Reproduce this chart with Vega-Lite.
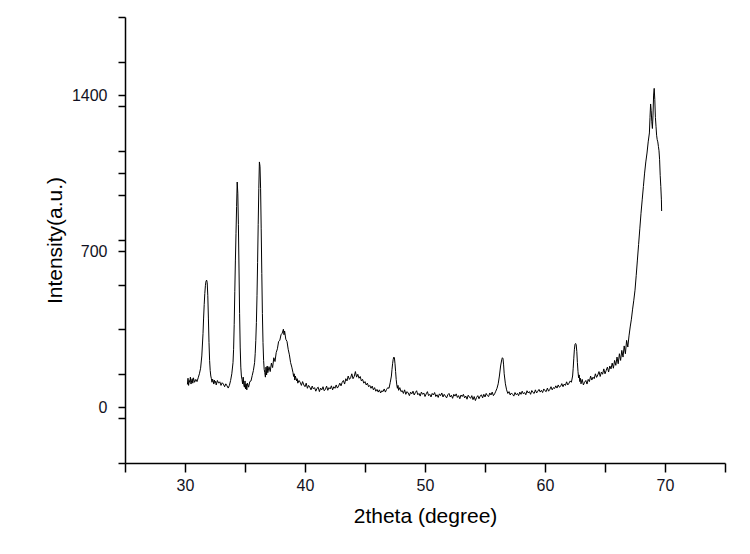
{
"$schema":"https://vega.github.io/schema/vega-lite/v6.json",
"autosize":{"type":"none"},
"width":600,"height":446,
"padding":{"left":125,"top":17,"right":25,"bottom":91},
"background":"white",
"config":{"view":{"stroke":null},"font":"Liberation Sans"},
"data":{"values":[
{"t":30.2,"i":102},{"t":30.25,"i":130},{"t":30.3,"i":98},{"t":30.35,"i":120},{"t":30.4,"i":112},{"t":30.45,"i":135},{"t":30.5,"i":104},{"t":30.55,"i":118},{"t":30.6,"i":128},{"t":30.65,"i":108},{"t":30.7,"i":132},{"t":30.8,"i":112},{"t":30.9,"i":125},{"t":31.0,"i":115},{"t":31.1,"i":132},{"t":31.2,"i":150},
{"t":31.3,"i":175},{"t":31.4,"i":230},{"t":31.5,"i":330},{"t":31.55,"i":400},{"t":31.6,"i":460},{"t":31.65,"i":510},{"t":31.7,"i":545},{"t":31.75,"i":565},{"t":31.8,"i":570},{"t":31.85,"i":560},{"t":31.9,"i":500},{"t":31.95,"i":400},{"t":32.0,"i":290},{"t":32.05,"i":210},{"t":32.1,"i":165},{"t":32.15,"i":140},{"t":32.2,"i":128},
{"t":32.25,"i":112},{"t":32.3,"i":126},{"t":32.35,"i":118},{"t":32.4,"i":104},{"t":32.45,"i":122},{"t":32.5,"i":110},{"t":32.55,"i":116},{"t":32.6,"i":100},{"t":32.7,"i":120},{"t":32.8,"i":108},{"t":32.9,"i":114},{"t":33.0,"i":98},{"t":33.1,"i":110},{"t":33.2,"i":104},{"t":33.3,"i":92},{"t":33.4,"i":105},{"t":33.5,"i":96},{"t":33.6,"i":86},{"t":33.7,"i":98},{"t":33.8,"i":120},
{"t":33.9,"i":150},{"t":34.0,"i":200},{"t":34.05,"i":260},{"t":34.1,"i":370},{"t":34.15,"i":520},{"t":34.2,"i":660},{"t":34.25,"i":780},{"t":34.3,"i":900},{"t":34.35,"i":1010},{"t":34.4,"i":960},{"t":34.45,"i":820},{"t":34.5,"i":620},{"t":34.55,"i":420},{"t":34.6,"i":270},{"t":34.65,"i":180},{"t":34.7,"i":140},{"t":34.75,"i":125},
{"t":34.8,"i":105},{"t":34.85,"i":135},{"t":34.9,"i":100},{"t":34.95,"i":90},{"t":35.0,"i":118},{"t":35.05,"i":82},{"t":35.1,"i":105},{"t":35.15,"i":78},{"t":35.2,"i":108},{"t":35.3,"i":90},{"t":35.4,"i":115},{"t":35.5,"i":118},{"t":35.6,"i":142},{"t":35.7,"i":165},
{"t":35.8,"i":200},{"t":35.85,"i":240},{"t":35.9,"i":300},{"t":35.95,"i":380},{"t":36.0,"i":500},{"t":36.05,"i":650},{"t":36.1,"i":820},{"t":36.15,"i":980},{"t":36.2,"i":1100},{"t":36.25,"i":1080},{"t":36.3,"i":980},{"t":36.35,"i":800},{"t":36.4,"i":600},{"t":36.45,"i":420},{"t":36.5,"i":290},{"t":36.55,"i":210},{"t":36.6,"i":170},{"t":36.65,"i":155},
{"t":36.7,"i":135},{"t":36.75,"i":180},{"t":36.8,"i":145},{"t":36.85,"i":185},{"t":36.9,"i":155},{"t":37.0,"i":182},{"t":37.1,"i":160},{"t":37.2,"i":198},{"t":37.3,"i":178},{"t":37.4,"i":222},{"t":37.5,"i":205},{"t":37.6,"i":245},{"t":37.7,"i":262},{"t":37.8,"i":295},{"t":37.9,"i":300},{"t":38.0,"i":325},{"t":38.1,"i":332},{"t":38.2,"i":350},{"t":38.25,"i":325},{"t":38.3,"i":342},{"t":38.4,"i":305},{"t":38.5,"i":295},{"t":38.6,"i":260},{"t":38.7,"i":235},{"t":38.8,"i":200},{"t":38.9,"i":180},
{"t":39.0,"i":155},{"t":39.05,"i":138},{"t":39.1,"i":150},{"t":39.15,"i":122},{"t":39.2,"i":140},{"t":39.3,"i":118},{"t":39.35,"i":128},{"t":39.4,"i":108},{"t":39.5,"i":120},{"t":39.6,"i":112},{"t":39.7,"i":98},{"t":39.8,"i":115},{"t":39.9,"i":100},{"t":40.0,"i":92},{"t":40.1,"i":108},{"t":40.2,"i":85},{"t":40.3,"i":98},{"t":40.4,"i":90},{"t":40.5,"i":78},{"t":40.6,"i":95},{"t":40.7,"i":82},{"t":40.8,"i":88},{"t":40.9,"i":72},{"t":41.0,"i":85},{"t":41.1,"i":90},{"t":41.2,"i":70},{"t":41.3,"i":86},{"t":41.4,"i":78},{"t":41.5,"i":92},{"t":41.6,"i":74},{"t":41.7,"i":80},{"t":41.8,"i":95},{"t":41.9,"i":76},{"t":42.0,"i":88},{"t":42.1,"i":82},{"t":42.2,"i":96},{"t":42.3,"i":78},{"t":42.4,"i":92},{"t":42.5,"i":85},{"t":42.6,"i":100},{"t":42.7,"i":86},{"t":42.8,"i":95},
{"t":42.9,"i":108},{"t":43.0,"i":96},{"t":43.1,"i":112},{"t":43.2,"i":120},{"t":43.3,"i":104},{"t":43.4,"i":128},{"t":43.5,"i":118},{"t":43.6,"i":140},{"t":43.7,"i":125},{"t":43.8,"i":132},{"t":43.9,"i":150},{"t":44.0,"i":128},{"t":44.1,"i":138},{"t":44.2,"i":160},{"t":44.3,"i":135},{"t":44.4,"i":148},{"t":44.5,"i":130},{"t":44.6,"i":138},{"t":44.7,"i":118},{"t":44.8,"i":125},{"t":44.9,"i":108},{"t":45.0,"i":115},{"t":45.1,"i":100},{"t":45.2,"i":108},{"t":45.3,"i":92},{"t":45.4,"i":98},{"t":45.5,"i":85},{"t":45.6,"i":95},{"t":45.7,"i":78},{"t":45.8,"i":88},{"t":45.9,"i":72},{"t":46.0,"i":80},{"t":46.1,"i":68},{"t":46.2,"i":78},{"t":46.3,"i":64},{"t":46.4,"i":74},{"t":46.5,"i":70},{"t":46.6,"i":82},{"t":46.7,"i":68},{"t":46.8,"i":80},{"t":46.9,"i":88},{"t":47.0,"i":85},{"t":47.1,"i":110},
{"t":47.2,"i":140},{"t":47.25,"i":170},{"t":47.3,"i":195},{"t":47.35,"i":215},{"t":47.4,"i":225},{"t":47.45,"i":222},{"t":47.5,"i":195},{"t":47.55,"i":160},{"t":47.6,"i":125},{"t":47.65,"i":100},
{"t":47.7,"i":85},{"t":47.75,"i":98},{"t":47.8,"i":76},{"t":47.9,"i":88},{"t":48.0,"i":70},{"t":48.1,"i":75},{"t":48.2,"i":62},{"t":48.3,"i":78},{"t":48.4,"i":58},{"t":48.5,"i":70},{"t":48.6,"i":64},{"t":48.7,"i":52},{"t":48.8,"i":68},{"t":48.9,"i":60},{"t":49.0,"i":72},{"t":49.1,"i":55},{"t":49.2,"i":66},{"t":49.3,"i":74},{"t":49.4,"i":56},{"t":49.5,"i":62},{"t":49.6,"i":50},{"t":49.7,"i":68},{"t":49.8,"i":58},{"t":49.9,"i":64},{"t":50.0,"i":48},{"t":50.1,"i":60},{"t":50.2,"i":70},{"t":50.3,"i":52},{"t":50.4,"i":58},{"t":50.5,"i":46},{"t":50.6,"i":62},{"t":50.7,"i":55},{"t":50.8,"i":66},{"t":50.9,"i":48},{"t":51.0,"i":56},{"t":51.1,"i":44},{"t":51.2,"i":60},{"t":51.3,"i":52},{"t":51.4,"i":64},{"t":51.5,"i":46},{"t":51.6,"i":58},{"t":51.7,"i":50},{"t":51.8,"i":42},{"t":51.9,"i":56},{"t":52.0,"i":62},{"t":52.1,"i":46},{"t":52.2,"i":54},{"t":52.3,"i":40},{"t":52.4,"i":58},{"t":52.5,"i":50},{"t":52.6,"i":60},{"t":52.7,"i":44},{"t":52.8,"i":52},{"t":52.9,"i":38},{"t":53.0,"i":55},{"t":53.1,"i":48},{"t":53.2,"i":58},{"t":53.3,"i":42},{"t":53.4,"i":50},{"t":53.5,"i":36},{"t":53.6,"i":54},{"t":53.7,"i":46},{"t":53.8,"i":40},{"t":53.9,"i":52},{"t":54.0,"i":34},{"t":54.1,"i":48},{"t":54.2,"i":30},{"t":54.3,"i":44},{"t":54.4,"i":52},{"t":54.5,"i":38},{"t":54.6,"i":50},{"t":54.7,"i":56},{"t":54.8,"i":42},{"t":54.9,"i":58},{"t":55.0,"i":46},{"t":55.1,"i":62},{"t":55.2,"i":52},{"t":55.3,"i":48},{"t":55.4,"i":64},{"t":55.5,"i":55},{"t":55.6,"i":68},{"t":55.7,"i":52},{"t":55.8,"i":60},{"t":55.9,"i":72},{"t":56.0,"i":85},{"t":56.1,"i":105},
{"t":56.2,"i":140},{"t":56.3,"i":185},{"t":56.4,"i":215},{"t":56.45,"i":222},{"t":56.5,"i":218},{"t":56.55,"i":190},{"t":56.6,"i":150},{"t":56.7,"i":105},
{"t":56.8,"i":78},{"t":56.9,"i":62},{"t":57.0,"i":70},{"t":57.1,"i":55},{"t":57.2,"i":64},{"t":57.3,"i":58},{"t":57.4,"i":50},{"t":57.5,"i":66},{"t":57.6,"i":56},{"t":57.7,"i":62},{"t":57.8,"i":52},{"t":57.9,"i":68},{"t":58.0,"i":58},{"t":58.1,"i":72},{"t":58.2,"i":60},{"t":58.3,"i":66},{"t":58.4,"i":56},{"t":58.5,"i":74},{"t":58.6,"i":64},{"t":58.7,"i":70},{"t":58.8,"i":58},{"t":58.9,"i":75},{"t":59.0,"i":66},{"t":59.1,"i":62},{"t":59.2,"i":78},{"t":59.3,"i":64},{"t":59.4,"i":72},{"t":59.5,"i":80},{"t":59.6,"i":68},{"t":59.7,"i":76},{"t":59.8,"i":66},{"t":59.9,"i":82},{"t":60.0,"i":74},{"t":60.1,"i":70},{"t":60.2,"i":86},{"t":60.3,"i":72},{"t":60.4,"i":80},{"t":60.5,"i":92},{"t":60.6,"i":78},{"t":60.7,"i":88},{"t":60.8,"i":84},{"t":60.9,"i":96},{"t":61.0,"i":86},{"t":61.1,"i":100},{"t":61.2,"i":90},{"t":61.3,"i":94},{"t":61.4,"i":106},{"t":61.5,"i":92},{"t":61.6,"i":104},{"t":61.7,"i":98},{"t":61.8,"i":114},{"t":61.9,"i":100},{"t":62.0,"i":108},{"t":62.1,"i":118},{"t":62.2,"i":112},{"t":62.3,"i":140},
{"t":62.35,"i":175},{"t":62.4,"i":220},{"t":62.45,"i":260},{"t":62.5,"i":282},{"t":62.55,"i":286},{"t":62.6,"i":280},{"t":62.65,"i":250},{"t":62.7,"i":200},{"t":62.75,"i":160},
{"t":62.8,"i":132},{"t":62.85,"i":145},{"t":62.9,"i":115},{"t":62.95,"i":130},{"t":63.0,"i":105},{"t":63.1,"i":125},{"t":63.2,"i":100},{"t":63.3,"i":112},{"t":63.4,"i":120},{"t":63.5,"i":104},{"t":63.6,"i":125},{"t":63.7,"i":115},{"t":63.8,"i":140},{"t":63.9,"i":122},{"t":64.0,"i":135},{"t":64.1,"i":128},{"t":64.2,"i":150},{"t":64.3,"i":134},{"t":64.4,"i":145},{"t":64.5,"i":160},{"t":64.6,"i":138},{"t":64.7,"i":158},{"t":64.8,"i":148},{"t":64.9,"i":172},{"t":65.0,"i":150},{"t":65.1,"i":165},{"t":65.2,"i":180},{"t":65.3,"i":158},{"t":65.4,"i":185},{"t":65.5,"i":172},{"t":65.6,"i":198},{"t":65.7,"i":175},{"t":65.8,"i":210},{"t":65.9,"i":188},{"t":66.0,"i":225},{"t":66.1,"i":195},{"t":66.2,"i":240},{"t":66.3,"i":210},{"t":66.4,"i":255},{"t":66.5,"i":225},{"t":66.6,"i":275},{"t":66.7,"i":240},{"t":66.8,"i":300},{"t":66.9,"i":270},
{"t":67.0,"i":320},{"t":67.1,"i":360},{"t":67.2,"i":395},{"t":67.3,"i":440},{"t":67.4,"i":480},{"t":67.5,"i":525},{"t":67.6,"i":590},{"t":67.7,"i":660},{"t":67.8,"i":730},{"t":67.9,"i":800},{"t":68.0,"i":870},{"t":68.1,"i":930},{"t":68.2,"i":990},{"t":68.3,"i":1050},{"t":68.4,"i":1100},{"t":68.5,"i":1140},{"t":68.6,"i":1190},{"t":68.7,"i":1230},{"t":68.75,"i":1300},{"t":68.8,"i":1360},{"t":68.85,"i":1330},{"t":68.9,"i":1280},{"t":68.95,"i":1250},{"t":69.0,"i":1310},{"t":69.05,"i":1400},{"t":69.1,"i":1430},{"t":69.15,"i":1380},{"t":69.2,"i":1300},{"t":69.25,"i":1260},{"t":69.3,"i":1220},{"t":69.35,"i":1200},{"t":69.4,"i":1190},{"t":69.45,"i":1170},{"t":69.5,"i":1150},{"t":69.55,"i":1110},{"t":69.6,"i":1040},{"t":69.65,"i":990},{"t":69.7,"i":930},{"t":69.72,"i":880}
]},
"mark":{"type":"line","color":"#000000","strokeWidth":1,"clip":true},
"encoding":{
"x":{"field":"t","type":"quantitative","scale":{"domain":[25,75],"nice":false,"zero":false},
"axis":{"title":"2theta (degree)","values":[25,30,35,40,45,50,55,60,65,70,75],"labelExpr":"(datum.value % 10 == 0 && datum.value >= 30 && datum.value <= 70) ? datum.label : ''","grid":false,"domainColor":"#000000","domainWidth":1.5,"tickColor":"#000000","tickWidth":1.5,"tickSize":9,"labelFontSize":16,"labelColor":"#111122","labelPadding":5,"labelFont":"Liberation Sans","titleFont":"Liberation Sans","titleFontSize":21,"titleFontWeight":"normal","titleColor":"#000000","titlePadding":12,"labelFlush":false}},
"y":{"field":"i","type":"quantitative","scale":{"domain":[-250,1750],"nice":false,"zero":false},
"axis":{"title":"Intensity(a.u.)","values":[-250,-50,0,150,350,550,700,750,950,1050,1150,1350,1400,1550,1750],"labelExpr":"(datum.value == 0 || datum.value == 700 || datum.value == 1400) ? datum.label : ''","format":"d","grid":false,"domainColor":"#000000","domainWidth":1.5,"tickColor":"#000000","tickWidth":1.5,"tickSize":7,"labelFontSize":16,"labelColor":"#111122","labelPadding":11,"labelFont":"Liberation Sans","titleFont":"Liberation Sans","titleFontSize":21,"titleFontWeight":"normal","titleColor":"#000000","titlePadding":6,"labelFlush":false}}
}
}
